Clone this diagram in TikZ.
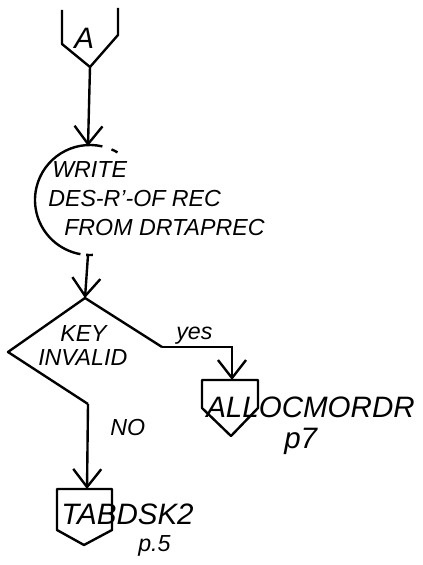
\documentclass[tikz,border=0pt]{standalone}
\usepackage{fontspec}
\setmainfont{Liberation Sans}
\usetikzlibrary{arrows.meta}

\tikzset{
  flow/.style={line width=1.7pt,-{Straight Barb[length=4.5mm,width=7mm,line width=1.7pt]}},
  outline/.style={line width=1.7pt,line join=round},
  hand/.style={font=\fontsize{16.5}{18}\selectfont\itshape,inner sep=0pt,anchor=west},
  big/.style={font=\fontsize{21}{23}\selectfont\itshape,inner sep=0pt,anchor=west}
}

\begin{document}
\begin{tikzpicture}[x=0.025cm,y=-0.025cm]
\useasboundingbox (0,0) rectangle (422,565);
% connector A
\draw[outline] (62,10) -- (62,44) -- (90,67) -- (118,35) -- (118,8);
\coordinate (Aout) at (90,67);
\node[big] (A) at (74,38) {A};
% write box (open circle)
\draw[outline] (90,200) ++(283:55) arc (283:100:55);
\draw[outline] (90,200) ++(293:55) arc (293:300:55);
\draw[outline] (90,200) ++(94:55) arc (94:87:55);
\coordinate (wtop) at (88,146);
\coordinate (wbot) at (88,255);
\node[hand] (W1) at (52,170) {WRITE};
\node[hand] (W2) at (48,199) {DES-R'-OF REC};
\node[hand] (W3) at (64,228) {FROM DRTAPREC};
% decision
\coordinate (kt) at (85,298);
\coordinate (kl) at (8,352);
\coordinate (kr) at (162,347);
\coordinate (kb) at (88,404);
\draw[outline] (kr) -- (kt) -- (kl) -- (kb);
\node[hand] (K1) at (60,334) {KEY};
\node[hand] (K2) at (38,358) {INVALID};
% yes branch
\coordinate (ybend) at (232,347);
\coordinate (altop) at (232,380);
\draw[flow] (kr) -- (ybend) -- (altop);
\node[hand] (yes) at (176,336) {yes};
\draw[outline] (202,380) -- (202,408) -- (231,436) -- (258,408) -- (258,380) -- cycle;
\node[big] (AL) at (206,407) {ALLOCMORDR};
\node[big] (p7) at (284,441) {p7};
% no branch
\coordinate (tatop) at (87,489);
\draw[flow] (kb) -- (tatop);
\node[hand] (no) at (110,428) {NO};
\draw[outline] (57,489) -- (57,530) -- (84,545) -- (112,530) -- (112,489) -- cycle;
\node[big] (TA) at (61,514) {TABDSK2};
\node[hand] (p5) at (138,546) {p.5};
% links
\draw[flow] (Aout) -- (wtop);
\draw[flow] (wbot) -- (kt);
\end{tikzpicture}
\end{document}
